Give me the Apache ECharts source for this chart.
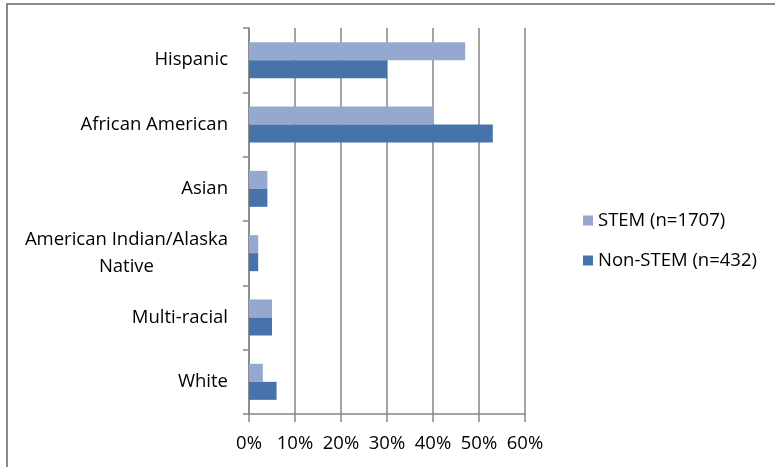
<!DOCTYPE html>
<html>
<head>
<meta charset="utf-8">
<script src="https://cdn.jsdelivr.net/npm/echarts@6/dist/echarts.min.js"></script>
<style>
  html, body { margin: 0; padding: 0; background: #fff; }
  #main { width: 775px; height: 467px; }
</style>
</head>
<body>
<div id="main"></div>
<script>
// categories, top to bottom
const groups = ["Hispanic", "African American", "Asian", "American Indian/Alaska\nNative", "Multi-racial", "White"];
const stem = [47, 40, 4, 2, 5, 3];
const nonStem = [30, 53, 4, 2, 5, 6];
const seriesNames = ["STEM (n=1707)", "Non-STEM (n=432)"];

const font = "'Open Sans', Lato, sans-serif";
const fs = 18.5;
const chart = echarts.init(document.getElementById("main"));

const option = {
  animation: false,
  color: ["#94A8D0", "#4674AA"],
  textStyle: { fontFamily: font },
  // outer frame (top and left edges visible)
  graphic: [{
    type: "rect",
    shape: { x: 7, y: 4, width: 820, height: 520 },
    style: { fill: "none", stroke: "#8a8a8a", lineWidth: 2 },
    silent: true
  }],
  legend: {
    orient: "vertical",
    left: 578,
    top: 206,
    itemWidth: 10,
    itemHeight: 10,
    itemGap: 21,
    icon: "rect",
    textStyle: { fontSize: fs, color: "#000", fontFamily: font },
    data: seriesNames
  },
  grid: { left: 249, top: 28, width: 276, height: 386, containLabel: false },
  xAxis: {
    type: "value",
    min: 0,
    max: 60,
    interval: 10,
    axisLine: { show: true, lineStyle: { color: "#868686", width: 1.5 } },
    axisTick: { show: true, length: 8, lineStyle: { color: "#868686", width: 1.5 } },
    axisLabel: { formatter: "{value}%", fontSize: fs, color: "#000", margin: 20 },
    splitLine: { show: true, lineStyle: { color: "#868686", width: 1.5 } }
  },
  yAxis: {
    type: "category",
    inverse: true,
    data: groups,
    axisLine: { show: true, lineStyle: { color: "#868686", width: 1.5 } },
    axisTick: { show: true, length: 6, lineStyle: { color: "#868686", width: 1.5 } },
    axisLabel: {
      fontSize: fs,
      color: "#000",
      margin: 21,
      formatter: function (v) {
        return v.split("\n").map(function (s) { return "{c|" + s + "}"; }).join("\n");
      },
      rich: { c: { align: "center", fontSize: fs, lineHeight: 27, color: "#000", fontFamily: font } }
    },
    splitLine: { show: false }
  },
  series: [
    {
      name: seriesNames[0],
      type: "bar",
      data: stem,
      barGap: "0%",
      barCategoryGap: "44%"
    },
    {
      name: seriesNames[1],
      type: "bar",
      data: nonStem,
      barGap: "0%",
      barCategoryGap: "44%"
    }
  ]
};

chart.setOption(option);
</script>
</body>
</html>
